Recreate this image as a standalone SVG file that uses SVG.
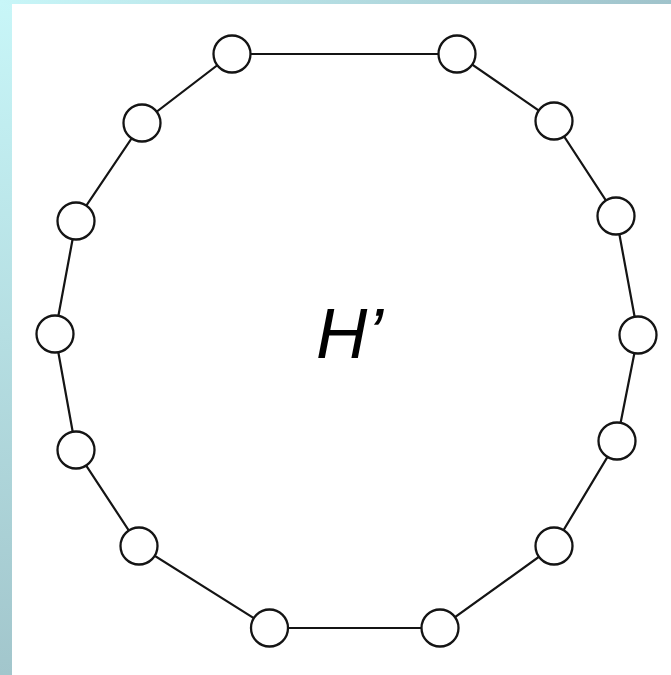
<svg xmlns="http://www.w3.org/2000/svg" width="671" height="675" viewBox="0 0 671 675">
  <defs>
    <linearGradient id="topg" x1="0" y1="0" x2="1" y2="0">
      <stop offset="0" stop-color="#c8f6f8"/>
      <stop offset="1" stop-color="#a0c3cb"/>
    </linearGradient>
    <linearGradient id="leftg" x1="0" y1="0" x2="0" y2="1">
      <stop offset="0" stop-color="#c8f6f8"/>
      <stop offset="1" stop-color="#a2c6cc"/>
    </linearGradient>
  </defs>
  <style>
    .edge { stroke: #141414; stroke-width: 2.2; fill: none; }
    .node { fill: #ffffff; stroke: #141414; stroke-width: 2.3; }
    .label { font-family: "Liberation Sans", Arial, sans-serif; font-style: italic; font-size: 71px; fill: #000000; }
  </style>
  <rect x="0" y="0" width="671" height="675" fill="url(#leftg)"/>
  <rect x="0" y="0" width="671" height="5" fill="url(#topg)"/>
  <rect x="12" y="4" width="659" height="671" fill="#ffffff"/>
  <g id="connectors">
    <polygon class="edge" points="232,54 457,54 554,121 616,216 638,335 617,441 554,546 440,628 269.5,628 139,546 76,450 55,334 76,221 142,123"/>
  </g>
  <g id="n1"><circle class="node" cx="232" cy="54" r="18.5"/></g>
  <g id="n2"><circle class="node" cx="457" cy="54" r="18.5"/></g>
  <g id="n3"><circle class="node" cx="554" cy="121" r="18.5"/></g>
  <g id="n4"><circle class="node" cx="616" cy="216" r="18.5"/></g>
  <g id="n5"><circle class="node" cx="638" cy="335" r="18.5"/></g>
  <g id="n6"><circle class="node" cx="617" cy="441" r="18.5"/></g>
  <g id="n7"><circle class="node" cx="554" cy="546" r="18.5"/></g>
  <g id="n8"><circle class="node" cx="440" cy="628" r="18.5"/></g>
  <g id="n9"><circle class="node" cx="269.5" cy="628" r="18.5"/></g>
  <g id="n10"><circle class="node" cx="139" cy="546" r="18.5"/></g>
  <g id="n11"><circle class="node" cx="76" cy="450" r="18.5"/></g>
  <g id="n12"><circle class="node" cx="55" cy="334" r="18.5"/></g>
  <g id="n13"><circle class="node" cx="76" cy="221" r="18.5"/></g>
  <g id="n14"><circle class="node" cx="142" cy="123" r="18.5"/></g>
  <g id="label"><text class="label" x="316" y="358">H’</text></g>
</svg>
